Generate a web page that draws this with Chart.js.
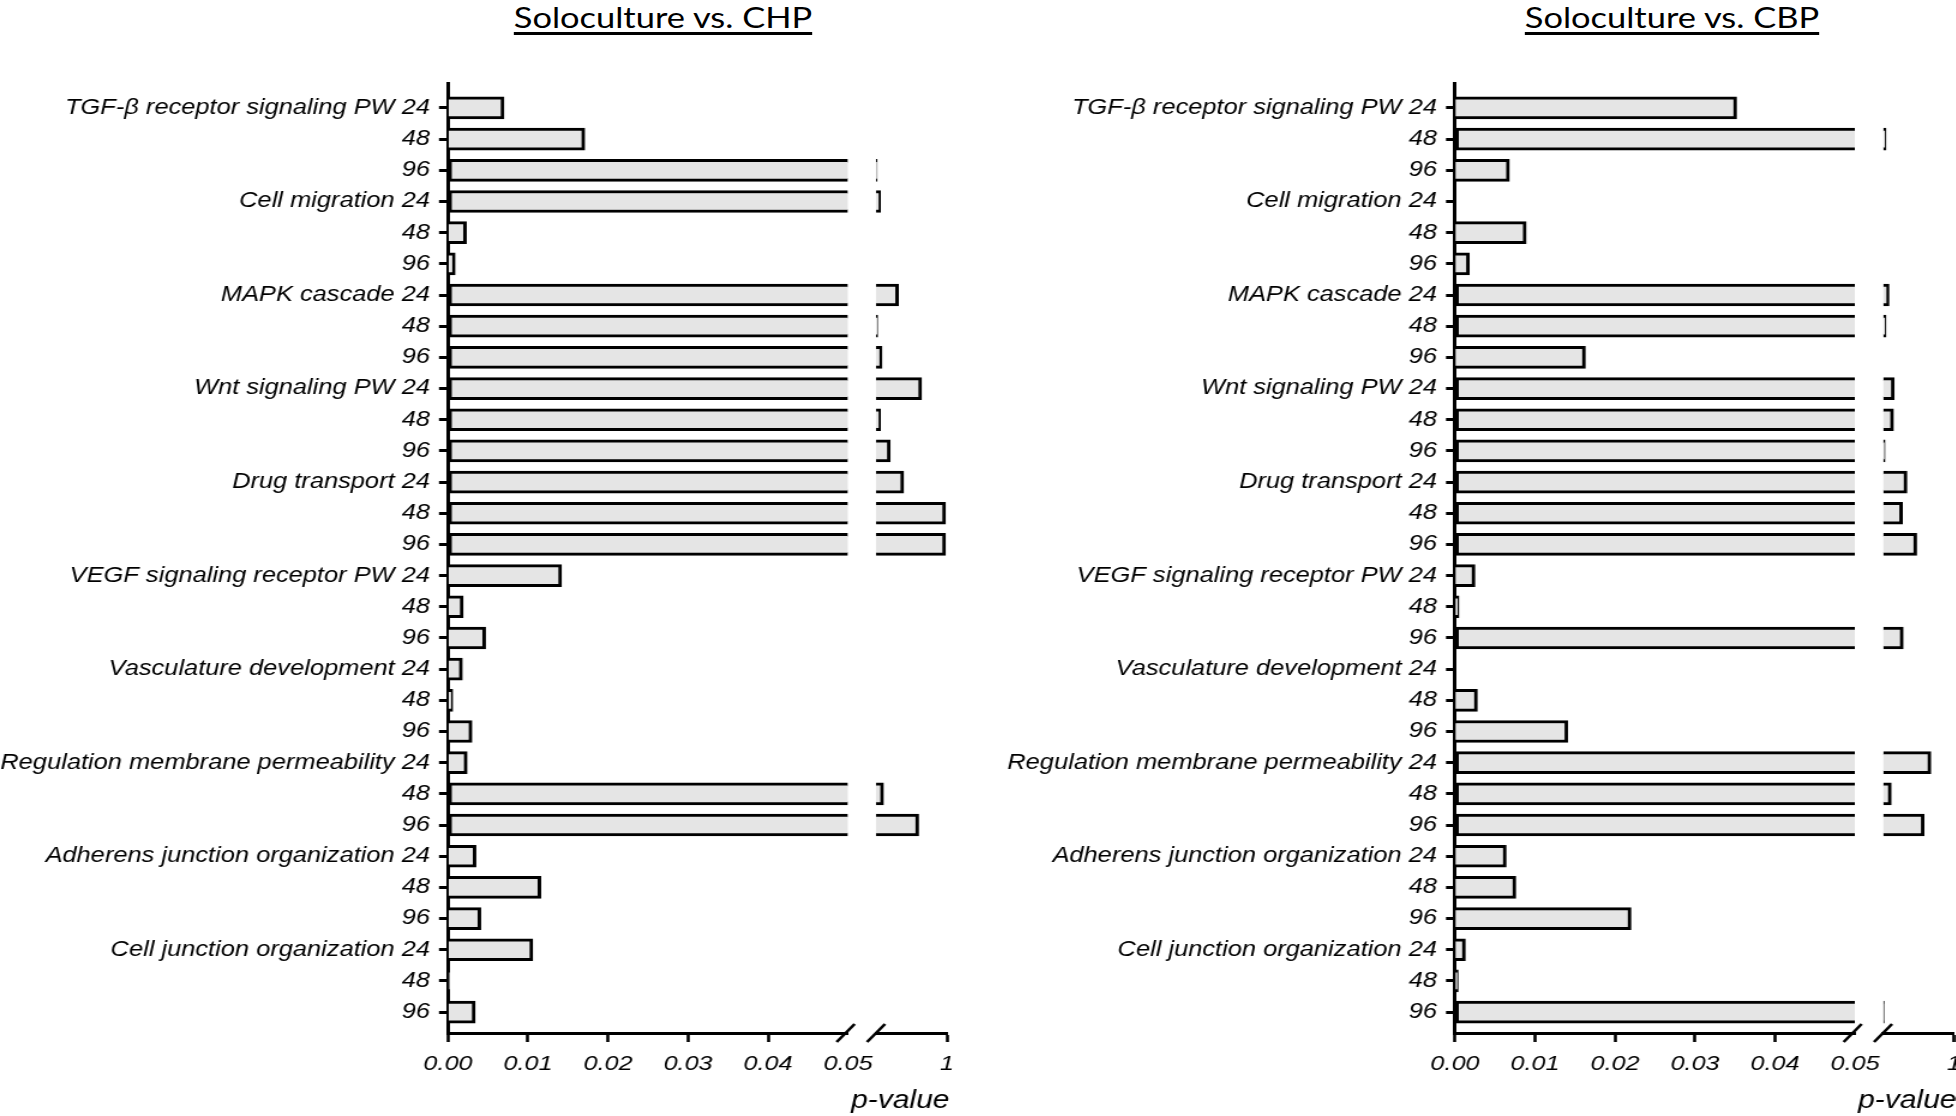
<!DOCTYPE html>
<html>
<head>
<meta charset="utf-8">
<script src="https://cdn.jsdelivr.net/npm/chart.js@4.4.0/dist/chart.umd.min.js"></script>
<style>
  html, body { margin: 0; padding: 0; background: #fff; }
  body { width: 1956px; height: 1116px; position: relative; overflow: hidden; }
  /* the source figure is stretched sideways by ~1.2, so the canvases are too */
  .panel { position: absolute; top: 0; transform: scaleX(1.2); transform-origin: 0 0; }
  .panel canvas { display: block; }
  .title {
    position: absolute; top: 0px; transform: translateX(-50%) scaleX(1.23);
    font-family: Lato, 'Open Sans', sans-serif; font-size: 28px; color: #000;
    white-space: nowrap; text-decoration: underline;
    text-decoration-thickness: 2.5px; text-underline-offset: 4px;
  }
</style>
</head>
<body>
<div class="title" style="left:663px">Soloculture vs. CHP</div>
<div class="title" style="left:1672px">Soloculture vs. CBP</div>
<div class="panel" style="left:0"><canvas id="chartCHP" width="817" height="1116"></canvas></div>
<div class="panel" style="left:980px"><canvas id="chartCBP" width="813" height="1116"></canvas></div>
<script>
// setup
const pathways = [
  'TGF-β receptor signaling PW',
  'Cell migration',
  'MAPK cascade',
  'Wnt signaling PW',
  'Drug transport',
  'VEGF signaling receptor PW',
  'Vasculature development',
  'Regulation membrane permeability',
  'Adherens junction organization',
  'Cell junction organization'
];
const hours = ['24', '48', '96'];

// p-values, 3 rows (24/48/96 h) per pathway, null = no bar
const chp_pvalues = [
  0.0070, 0.0171, 0.065,
  0.11, 0.0023, 0.0009,
  0.35, 0.072, 0.13,
  0.66, 0.11, 0.24,
  0.42, 0.98, 0.98,
  0.0142, 0.0019, 0.0047,
  0.0018, 0.0006, 0.0030,
  0.0024, 0.15, 0.62,
  0.0035, 0.0116, 0.0041,
  0.0106, 0.0002, 0.0034
];
const cbp_pvalues = [
  0.0352, 0.09, 0.0068,
  null, 0.0089, 0.0018,
  0.13, 0.09, 0.0163,
  0.20, 0.19, 0.077,
  0.37, 0.31, 0.50,
  0.0025, 0.0005, 0.32,
  null, 0.0028, 0.0141,
  0.69, 0.16, 0.60,
  0.0064, 0.0076, 0.0220,
  0.0013, 0.0004, 0.065
];

const low_ticks = [0, 0.01, 0.02, 0.03, 0.04, 0.05];
const high_ticks = [1];
const cutoff = 0.05;
const axisName = 'p-value';

const rowLabels = [];
pathways.forEach(p => hours.forEach((h, i) => rowLabels.push(i == 0 ? p + ' ' + h : h)));

Chart.defaults.color = '#000';
const fontFamily = "'Liberation Sans', Arial, sans-serif";
const labelFont = { family: fontFamily, size: 21.2, style: 'italic' };
const tickFont = { family: fontFamily, size: 21, style: 'italic' };

// draws the // marks where the x axis is cut, and the axis name under it
const axisBreak = {
  id: 'axisBreak',
  afterDraw(chart) {
    const ctx = chart.ctx;
    const lo = chart.scales.x, hi = chart.scales.x2;
    const y = lo.top;
    ctx.save();
    ctx.strokeStyle = '#000';
    ctx.lineWidth = 2.6;
    [lo.right - 2, hi.left].forEach(cx => {
      ctx.beginPath();
      ctx.moveTo(cx - 7.5, y + 9);
      ctx.lineTo(cx + 7.5, y - 9);
      ctx.stroke();
    });
    ctx.fillStyle = '#000';
    ctx.font = 'italic 25px ' + fontFamily;
    ctx.textAlign = 'right';
    ctx.textBaseline = 'alphabetic';
    ctx.fillText(axisName, hi.right + 2, 1108);
    ctx.restore();
  }
};

// stacked x axes: keep their end labels from eating into the chart width
function fitX(s) {
  s.height = 83;
  s.paddingLeft = 0;
  s.paddingRight = 0;
}

function makeDatasets(pvals) {
  const low = [], high = [];
  pvals.forEach((p, i) => {
    if (p == null) return;
    low.push({ x: Math.min(p, cutoff), y: i, p: p });
    if (p > cutoff) high.push({ x: [cutoff, p], y: i });
  });
  const style = {
    backgroundColor: '#e5e5e5',
    borderColor: '#000',
    borderWidth: 3,
    barThickness: 22,
    grouped: false
  };
  return [
    Object.assign({ data: low, xAxisID: 'x',
      borderSkipped: ctx => (ctx.raw && ctx.raw.p > cutoff) ? 'end' : 'start' }, style),
    Object.assign({ data: high, xAxisID: 'x2', borderSkipped: 'start' }, style)
  ];
}

function makeConfig(pvals, yWidth, padRight) {
  return {
    type: 'bar',
    data: { datasets: makeDatasets(pvals) },
    options: {
      indexAxis: 'y',
      responsive: false,
      animation: false,
      layout: { autoPadding: false, padding: { top: 83, right: padRight, bottom: 0, left: 0 } },
      plugins: { legend: { display: false }, tooltip: { enabled: false } },
      scales: {
        y: {
          type: 'linear', reverse: true, min: -0.8, max: 29.67, offset: false,
          afterBuildTicks: s => { s.ticks = rowLabels.map((l, i) => ({ value: i })); },
          afterFit: s => { s.width = yWidth; s.paddingTop = 0; s.paddingBottom = 0; },
          ticks: { callback: v => rowLabels[v], font: labelFont, padding: 7.5, autoSkip: false },
          grid: { offset: false, drawOnChartArea: false, tickLength: 7.5, tickWidth: 3, tickColor: '#000' },
          border: { color: '#000', width: 3 }
        },
        x: {
          type: 'linear', position: 'bottom', stack: 'p', stackWeight: 400,
          min: 0, max: cutoff,
          afterBuildTicks: s => { s.ticks = low_ticks.map(v => ({ value: v })); },
          afterFit: fitX,
          ticks: { callback: v => v.toFixed(2), font: tickFont, padding: 10, autoSkip: false, maxRotation: 0 },
          grid: { drawOnChartArea: false, tickLength: 9, tickWidth: 2.6,
            tickColor: ctx => (ctx.tick && ctx.tick.value == cutoff) ? 'rgba(0,0,0,0)' : '#000' },
          border: { color: '#000', width: 3 }
        },
        gap: {
          axis: 'x', type: 'linear', position: 'bottom', stack: 'p', stackWeight: 28,
          min: 0, max: 1,
          afterFit: fitX,
          ticks: { display: false },
          grid: { display: false },
          border: { display: false }
        },
        x2: {
          type: 'linear', position: 'bottom', stack: 'p', stackWeight: 71,
          min: cutoff, max: 1,
          afterBuildTicks: s => { s.ticks = high_ticks.map(v => ({ value: v })); },
          afterFit: fitX,
          ticks: { callback: v => String(v), font: tickFont, padding: 10, autoSkip: false, maxRotation: 0 },
          grid: { drawOnChartArea: false, tickLength: 9, tickWidth: 2.6, tickColor: '#000' },
          border: { color: '#000', width: 3 }
        }
      }
    },
    plugins: [axisBreak]
  };
}

// widths are in the un-stretched canvas units (page px / 1.2)
const chpChart = new Chart(document.getElementById('chartCHP'), makeConfig(chp_pvalues, 373.3, 27.8));
const cbpChart = new Chart(document.getElementById('chartCBP'), makeConfig(cbp_pvalues, 395.8, 1.3));
</script>
</body>
</html>
